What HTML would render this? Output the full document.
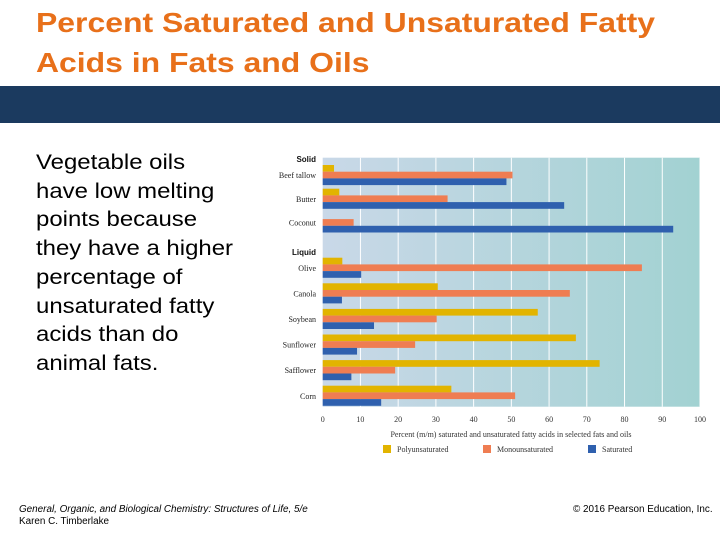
<!DOCTYPE html>
<html><head><meta charset="utf-8"><style>
body{margin:0;width:720px;height:540px;background:#fff;position:relative;overflow:hidden;font-family:"Liberation Sans",sans-serif}
.t{position:absolute;left:36px;color:#e8701a;font-weight:bold;font-size:28px;line-height:40px;top:3px;white-space:nowrap;transform:scaleX(1.14);transform-origin:0 0}
.band{position:absolute;left:0;top:86px;width:720px;height:37px;background:#1b3a5f}
.body{position:absolute;left:36px;top:149px;font-size:21px;line-height:28.7px;color:#000;white-space:nowrap;transform:scaleX(1.14);transform-origin:0 0}
.f{position:absolute;font-size:9.9px;color:#000;white-space:nowrap}
</style></head><body>
<div class="t">Percent Saturated and Unsaturated Fatty<br>Acids in Fats and Oils</div>
<div class="band"></div>
<div class="body">Vegetable oils<br>have low melting<br>points because<br>they have a higher<br>percentage of<br>unsaturated fatty<br>acids than do<br>animal fats.</div>
<div class="f" style="left:19px;top:504px;font-style:italic">General, Organic, and Biological Chemistry: Structures of Life, 5/e</div>
<div class="f" style="left:19px;top:516px">Karen C. Timberlake</div>
<div class="f" style="left:573px;top:504px">© 2016 Pearson Education, Inc.</div>
<svg id="c" width="720" height="540" style="position:absolute;left:0;top:0">
<defs><linearGradient id="g" x1="0" x2="1"><stop offset="0" stop-color="#c9d8e8"/><stop offset="1" stop-color="#a2d2d2"/></linearGradient></defs>
</svg>
<script>
const categories=["Beef tallow","Butter","Coconut","Olive","Canola","Soybean","Sunflower","Safflower","Corn"];
const polyValues=[3.0,4.4,0,5.2,30.5,57,67.1,73.4,34.1];
const monoValues=[50.3,33.1,8.2,84.6,65.5,30.2,24.5,19.2,51];
const satValues=[48.7,64,92.9,10.2,5.1,13.6,9.1,7.6,15.5];
const ticks=[0,10,20,30,40,50,60,70,80,90,100];
const svg=document.getElementById('c');const NS='http://www.w3.org/2000/svg';
function mk(t,a,p){const e=document.createElementNS(NS,t);for(const k in a)e.setAttribute(k,a[k]);(p||svg).appendChild(e);return e;}
const X0=322.7,X1=700,Y0=157.7,Y1=406.7;
const x=v=>X0+(X1-X0)*v/100;
const yTop=i=>i<3?165+i*23.7:257.7+(i-3)*25.6;
const BH=6.7;
let bg=mk('rect',{x:X0,y:Y0,width:X1-X0,height:Y1-Y0,fill:'url(#g)'});


ticks.forEach(t=>{
 if(t>0){let l=mk('line',{x1:x(t),x2:x(t),y1:Y0,y2:Y1,stroke:'#fff','stroke-width':1});
 
 }
 let tx=mk('text',{x:x(t),y:422,'font-size':8,'text-anchor':'middle','font-family':'Liberation Serif,serif',fill:'#333'});tx.textContent=t;
 
 
});
const series=[[polyValues,'#e2b400'],[monoValues,'#ef7d52'],[satValues,'#2f60ae']];
categories.forEach((c,i)=>{
 series.forEach((s,j)=>{
  if(s[0][i]>0){let r=mk('rect',{x:X0,y:yTop(i)+j*BH,width:x(s[0][i])-X0,height:BH,fill:s[1]});
  
  }
 });
 let tx=mk('text',{x:316,y:yTop(i)+BH*1.5+3,'font-size':8,'text-anchor':'end','font-family':'Liberation Serif,serif',fill:'#222'});tx.textContent=c;
 
 
});
[['Solid',162],['Liquid',255]].forEach(g=>{let tx=mk('text',{x:316,y:g[1],'font-size':8,'font-weight':'bold','text-anchor':'end','font-family':'Liberation Sans,sans-serif',fill:'#111'});tx.textContent=g[0];
 
 });
let at=mk('text',{x:511,y:437,'font-size':8,'text-anchor':'middle','font-family':'Liberation Serif,serif',fill:'#333'});at.textContent='Percent (m/m) saturated and unsaturated fatty acids in selected fats and oils';


[['Polyunsaturated','#e2b400',383],['Monounsaturated','#ef7d52',483],['Saturated','#2f60ae',588]].forEach(l=>{
 let r=mk('rect',{x:l[2],y:445,width:8,height:8,fill:l[1]});
 
 
 let tx=mk('text',{x:l[2]+14,y:452,'font-size':8,'font-family':'Liberation Serif,serif',fill:'#333'});tx.textContent=l[0];
 
 
});
</script>
</body></html>
